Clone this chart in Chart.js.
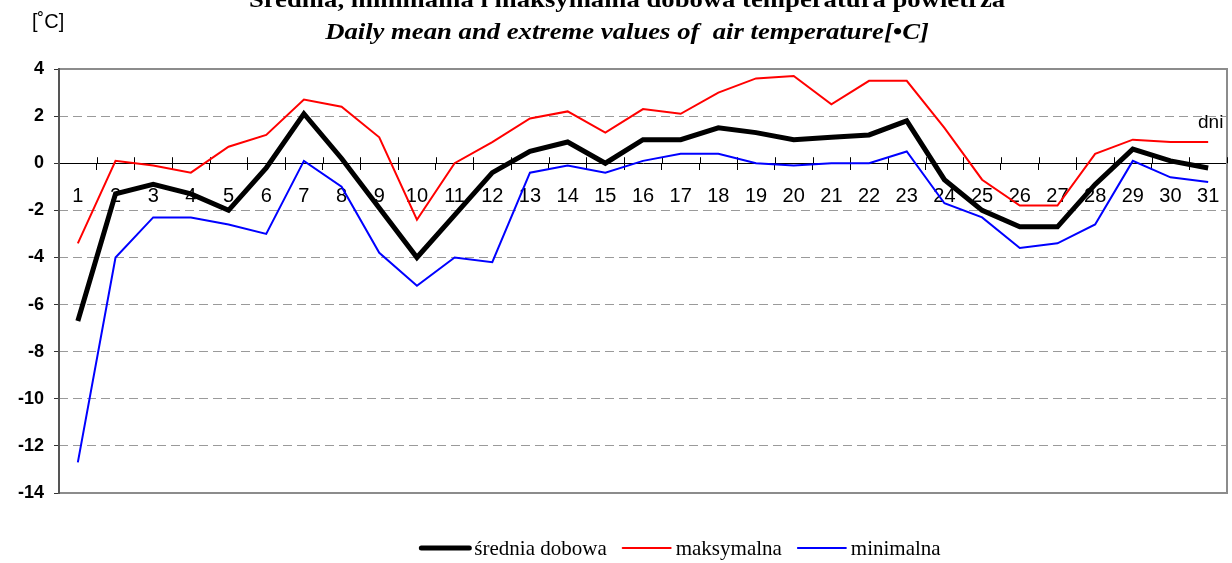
<!DOCTYPE html>
<html>
<head>
<meta charset="utf-8">
<script src="https://cdn.jsdelivr.net/npm/chart.js@4/dist/chart.umd.min.js"></script>
<style>
  body { margin: 0; background: #fff; }
  #wrap { width: 1232px; height: 563px; position: relative; }
</style>
</head>
<body>
<div id="wrap"><canvas id="tempChart"></canvas></div>
<script>
const days = ["1","2","3","4","5","6","7","8","9","10","11","12","13","14","15","16",
  "17","18","19","20","21","22","23","24","25","26","27","28","29","30","31"];

const sredniaDobowa = [-6.7, -1.3, -0.9, -1.3, -2.0, -0.2, 2.1, 0.2, -1.9, -4.0,
  -2.2, -0.4, 0.5, 0.9, 0.0, 1.0, 1.0, 1.5, 1.3, 1.0,
  1.1, 1.2, 1.8, -0.7, -2.0, -2.7, -2.7, -0.9, 0.6, 0.1, -0.2];

const maksymalna = [-3.4, 0.1, -0.1, -0.4, 0.7, 1.2, 2.7, 2.4, 1.1, -2.4,
  0.0, 0.9, 1.9, 2.2, 1.3, 2.3, 2.1, 3.0, 3.6, 3.7,
  2.5, 3.5, 3.5, 1.5, -0.7, -1.8, -1.8, 0.4, 1.0, 0.9, 0.9];

const minimalna = [-12.7, -4.0, -2.3, -2.3, -2.6, -3.0, 0.1, -1.0, -3.8, -5.2,
  -4.0, -4.2, -0.4, -0.1, -0.4, 0.1, 0.4, 0.4, 0.0, -0.1,
  0.0, 0.0, 0.5, -1.7, -2.3, -3.6, -3.4, -2.6, 0.1, -0.6, -0.8];

const yMin = -14;
const yMax = 4;
const yStep = 2;

const titlePl = "Średnia, minimalna i maksymalna dobowa temperatura powietrza";
const titleEn = "Daily mean and extreme values of  air temperature[•C]";

// frame round the plot area, drawn under the lines
const framePlugin = {
  id: "frame",
  beforeDatasetsDraw(chart) {
    const a = chart.chartArea;
    const ctx = chart.ctx;
    ctx.save();
    ctx.strokeStyle = "#8c8c8c";
    ctx.lineWidth = 2;
    ctx.strokeRect(a.left, a.top, a.right - a.left, a.bottom - a.top);
    ctx.strokeStyle = "#555";
    ctx.beginPath();
    ctx.moveTo(a.left, a.top - 1);
    ctx.lineTo(a.left, a.bottom + 1);
    ctx.stroke();

    // upper half of the day ticks on the zero line
    const xs = chart.scales.x;
    const y0 = chart.scales.y.getPixelForValue(0);
    const w = (xs.right - xs.left) / days.length;
    ctx.strokeStyle = "#000";
    ctx.lineWidth = 1;
    ctx.beginPath();
    for (let i = 1; i <= days.length; i++) {
      const x = Math.round(xs.left + i * w) + 0.5;
      ctx.moveTo(x, y0 - 6);
      ctx.lineTo(x, y0);
    }
    ctx.stroke();
    ctx.restore();
  }
};

// titles, unit labels and legend
const textPlugin = {
  id: "texts",
  afterDraw(chart) {
    const ctx = chart.ctx;
    ctx.save();
    ctx.fillStyle = "#000";
    ctx.textAlign = "center";
    ctx.textBaseline = "alphabetic";

    // the original titles are a bit stretched sideways
    ctx.save();
    ctx.translate(627, 0);
    ctx.scale(1.16, 1);
    ctx.font = "bold 23px 'Liberation Serif'";
    ctx.fillText(titlePl, 0, 7);
    ctx.font = "italic bold 23px 'Liberation Serif'";
    ctx.fillText(titleEn, 0, 39);
    ctx.restore();

    ctx.textAlign = "left";
    ctx.font = "20px 'Liberation Sans'";
    ctx.fillText("[˚C]", 32, 28);
    ctx.font = "19px 'Liberation Sans'";
    ctx.fillText("dni", 1198, 128);

    // legend
    ctx.font = "21px 'Liberation Serif'";
    const lineLen = 52;
    const gapIn = 3;
    const gapOut = 14;
    const items = chart.data.datasets;
    let total = 0;
    items.forEach((d, i) => {
      total += lineLen + gapIn + ctx.measureText(d.label).width;
      if (i < items.length - 1) total += gapOut;
    });
    let x = 680 - total / 2;
    const y = 548;
    ctx.textBaseline = "middle";
    items.forEach(d => {
      ctx.strokeStyle = d.borderColor;
      ctx.lineWidth = d.borderWidth;
      ctx.lineCap = "round";
      ctx.beginPath();
      ctx.moveTo(x + 2, y);
      ctx.lineTo(x + lineLen - 2, y);
      ctx.stroke();
      x += lineLen + gapIn;
      ctx.fillText(d.label, x, y + 1);
      x += ctx.measureText(d.label).width + gapOut;
    });
    ctx.restore();
  }
};

new Chart(
  document.getElementById("tempChart"),
  {
    type: "line",
    data: {
      labels: days,
      datasets: [
        {
          label: "średnia dobowa",
          data: sredniaDobowa,
          borderColor: "#000",
          borderWidth: 5,
          pointRadius: 0,
          tension: 0
        },
        {
          label: "maksymalna",
          data: maksymalna,
          borderColor: "#ff0000",
          borderWidth: 2,
          pointRadius: 0,
          tension: 0
        },
        {
          label: "minimalna",
          data: minimalna,
          borderColor: "#0000ff",
          borderWidth: 2,
          pointRadius: 0,
          tension: 0
        }
      ]
    },
    options: {
      responsive: true,
      maintainAspectRatio: false,
      animation: false,
      layout: { padding: { left: 0, right: 5, top: 69, bottom: 70 } },
      plugins: {
        legend: { display: false },
        title: { display: false },
        tooltip: { enabled: false }
      },
      scales: {
        x: {
          type: "category",
          position: { y: 0 },
          offset: true,
          afterFit(scale) {
            scale.paddingLeft = 0;
            scale.paddingRight = 0;
          },
          grid: {
            offset: true,
            drawOnChartArea: false,
            drawTicks: true,
            tickLength: 6,
            color: "#000"
          },
          border: { display: true, color: "#000", width: 1 },
          ticks: {
            color: "#000",
            padding: 15,
            maxRotation: 0,
            autoSkip: false,
            font: { family: "'Liberation Sans'", size: 20 }
          }
        },
        y: {
          min: yMin,
          max: yMax,
          afterFit(scale) { scale.width = 59; },
          grid: {
            color: "#9a9a9a",
            tickColor: "#333",
            tickLength: 5,
            lineWidth: 1
          },
          border: { display: false, dash: [9, 5] },
          ticks: {
            stepSize: yStep,
            color: "#000",
            padding: 10,
            font: { family: "'Liberation Sans'", size: 18, weight: "bold" }
          }
        }
      }
    },
    plugins: [framePlugin, textPlugin]
  }
);
</script>
</body>
</html>
